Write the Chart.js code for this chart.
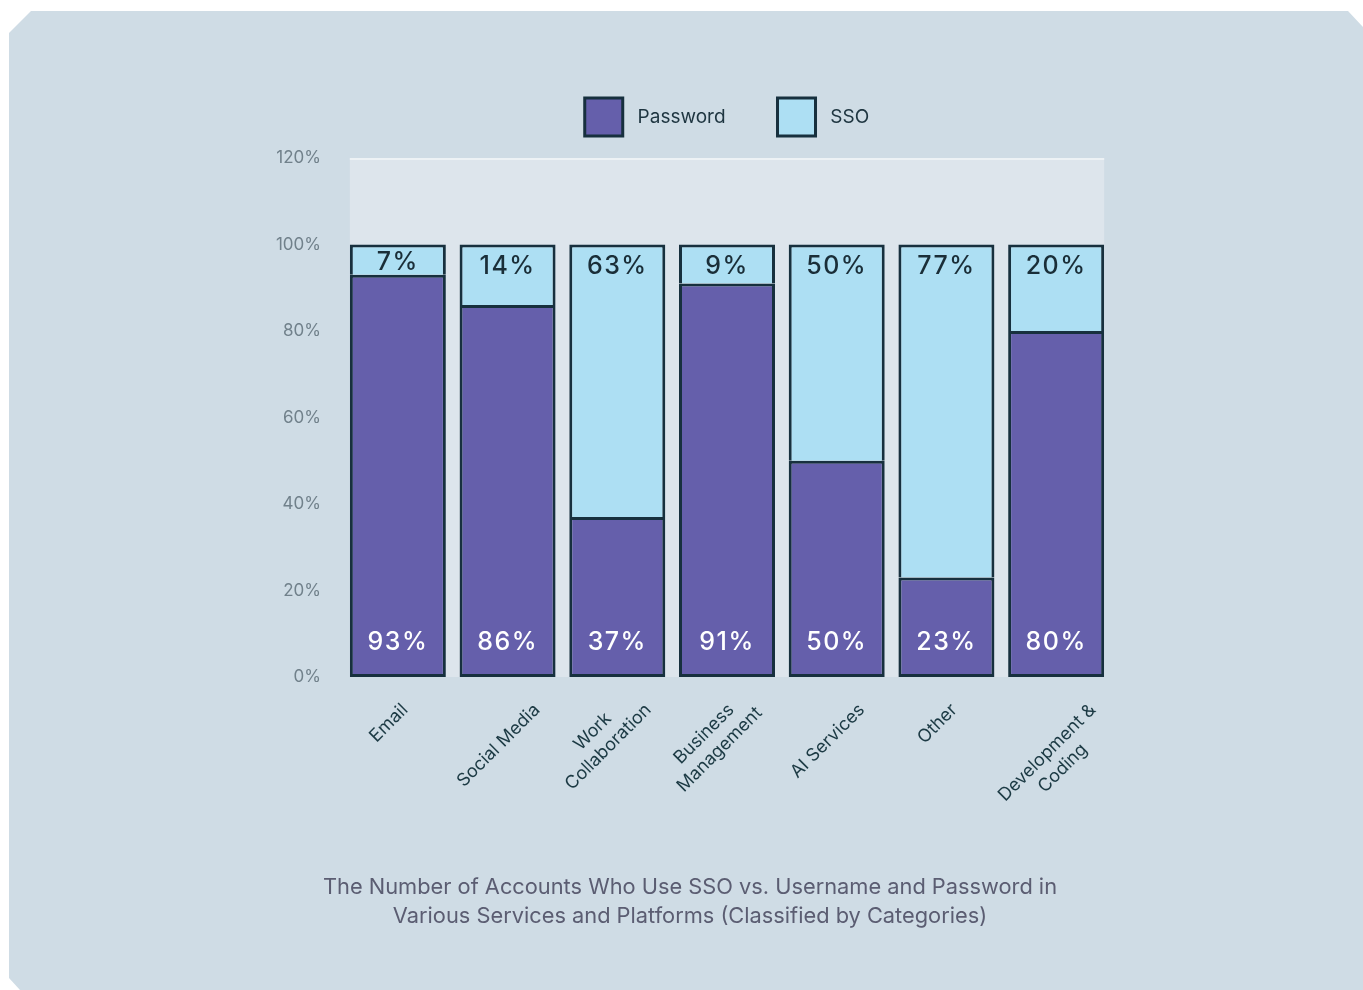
<!DOCTYPE html>
<html>
<head>
<meta charset="utf-8">
<script src="https://cdn.jsdelivr.net/npm/chart.js@4.4.1/dist/chart.umd.min.js"></script>
<style>
  html, body { margin: 0; padding: 0; background: #ffffff; }
  #panel {
    position: absolute; left: 9px; top: 11px; width: 1354px; height: 979px;
    background: #cfdce5;
    clip-path: polygon(22px 0, calc(100% - 15px) 0, 100% 16px, 100% 100%, 11px 100%, 0 calc(100% - 12px), 0 22px);
  }
  #wrap { position: absolute; left: 0; top: 0; width: 1363px; height: 990px; }
</style>
</head>
<body>
<div id="panel"></div>
<div id="wrap"><canvas id="chart" width="1363" height="990"></canvas></div>
<script>
// categories and values
const categories = [
  ['Email'],
  ['Social Media'],
  ['Work', 'Collaboration'],
  ['Business', 'Management'],
  ['AI Services'],
  ['Other'],
  ['Development &', 'Coding']
];
const passwordValues = [93, 86, 37, 91, 50, 23, 80];
const ssoValues = [7, 14, 63, 9, 50, 77, 20];
const yTicks = [0, 20, 40, 60, 80, 100, 120];
const titleLines = [
  'The Number of Accounts Who Use SSO vs. Username and Password in',
  'Various Services and Platforms (Classified by Categories)'
];

const PURPLE = '#655fab';
const LIGHTBLUE = '#addff3';
const EDGE = '#17303e';
const FONT = 'Inter, "Noto Sans", sans-serif';

// light backdrop behind the bars, from first bar edge to last bar edge
const plotBackground = {
  id: 'plotBackground',
  beforeDatasetsDraw(chart) {
    const { ctx, chartArea: a } = chart;
    const bars = chart.getDatasetMeta(0).data;
    if (!bars.length) return;
    const first = bars[0], last = bars[bars.length - 1];
    const left = first.x - first.width / 2;
    const right = last.x + last.width / 2;
    ctx.save();
    ctx.fillStyle = '#dde5ec';
    ctx.fillRect(left, a.top, right - left, a.bottom - a.top);
    ctx.fillStyle = '#edf2f5';
    ctx.fillRect(left, a.top, right - left, 2);
    ctx.restore();
  }
};

// percentage labels inside the bars
const barLabels = {
  id: 'barLabels',
  afterDatasetsDraw(chart) {
    const { ctx } = chart;
    ctx.save();
    ctx.font = '500 25px ' + FONT;
    ctx.textAlign = 'center';
    ctx.textBaseline = 'middle';
    if ('letterSpacing' in ctx) ctx.letterSpacing = '1.5px';

    chart.getDatasetMeta(0).data.forEach((bar, i) => {
      ctx.fillStyle = '#ffffff';
      ctx.fillText(passwordValues[i] + '%', bar.x, bar.base - 35);
    });
    chart.getDatasetMeta(1).data.forEach((bar, i) => {
      const top = Math.min(bar.y, bar.base);
      const bottom = Math.max(bar.y, bar.base);
      const y = Math.min(top + 22, (top + bottom) / 2 + 3);
      ctx.fillStyle = '#1a2e38';
      ctx.fillText(ssoValues[i] + '%', bar.x, y);
    });
    ctx.restore();
  }
};

// rotated category labels, lines centred on each other
const xLabels = {
  id: 'xLabels',
  afterDraw(chart) {
    const { ctx, chartArea } = chart;
    const xScale = chart.scales.x;
    const lh = 22;
    const s = Math.SQRT1_2;
    ctx.save();
    ctx.font = '18px ' + FONT;
    ctx.fillStyle = '#1c3a44';
    ctx.textAlign = 'center';
    ctx.textBaseline = 'middle';
    categories.forEach((lines, i) => {
      const n = lines.length;
      let minY = Infinity, minX = Infinity, maxX = -Infinity;
      const ws = lines.map(t => ctx.measureText(t).width);
      lines.forEach((t, j) => {
        const ly = (j - (n - 1) / 2) * lh;
        const w = ws[j];
        minY = Math.min(minY, (-w / 2 + ly - 7) * s);
        minX = Math.min(minX, (-w / 2 + ly + 7) * s);
        maxX = Math.max(maxX, (w / 2 + ly - 7) * s);
      });
      const tx = xScale.getPixelForValue(i);
      const cx = tx - 9 - (minX + maxX) / 2;
      const cy = chartArea.bottom + 25 - minY;
      ctx.save();
      ctx.translate(cx, cy);
      ctx.rotate(-Math.PI / 4);
      lines.forEach((t, j) => {
        ctx.fillText(t, 0, (j - (n - 1) / 2) * lh);
      });
      ctx.restore();
    });
    ctx.restore();
  }
};

new Chart(document.getElementById('chart'), {
  type: 'bar',
  data: {
    labels: categories,
    datasets: [
      {
        label: 'Password',
        data: passwordValues,
        backgroundColor: PURPLE,
        borderColor: EDGE,
        borderWidth: 3,
        borderSkipped: false
      },
      {
        label: 'SSO',
        data: ssoValues,
        backgroundColor: LIGHTBLUE,
        borderColor: EDGE,
        borderWidth: 3,
        borderSkipped: 'bottom'
      }
    ]
  },
  options: {
    responsive: false,
    animation: false,
    devicePixelRatio: 1,
    layout: { padding: { left: 269, right: 252, top: 46, bottom: 0 } },
    barPercentage: 0.875,
    categoryPercentage: 1,
    scales: {
      x: {
        stacked: true,
        grid: { display: false },
        border: { display: false },
        ticks: { display: false },
        afterFit(scale) { scale.height = 196; }
      },
      y: {
        stacked: true,
        min: 0,
        max: 120,
        afterBuildTicks(scale) { scale.ticks = yTicks.map(v => ({ value: v })); },
        grid: { display: false, drawTicks: false },
        border: { display: false },
        ticks: {
          padding: 22,
          color: '#71818b',
          font: { family: FONT, size: 17 },
          callback: v => v + '%'
        },
        afterFit(scale) { scale.width = 74; }
      }
    },
    plugins: {
      legend: {
        position: 'top',
        fullSize: false,
        labels: {
          boxWidth: 38,
          boxHeight: 38,
          padding: 52,
          color: '#1e3540',
          font: { family: FONT, size: 19 },
          generateLabels(chart) {
            return Chart.defaults.plugins.legend.labels.generateLabels(chart)
              .map(item => Object.assign(item, { text: ' ' + item.text }));
          }
        }
      },
      // empty spacer between legend and plot
      subtitle: {
        display: true,
        position: 'top',
        fullSize: false,
        weight: 500,
        text: '',
        font: { size: 1, lineHeight: 1 },
        padding: { top: 11, bottom: 0 }
      },
      title: {
        display: true,
        position: 'bottom',
        text: titleLines,
        color: '#5b5d72',
        font: { family: FONT, size: 21.8, weight: '400', lineHeight: 1.33 },
        padding: { top: 0, bottom: 59 }
      },
      tooltip: { enabled: false }
    }
  },
  plugins: [plotBackground, barLabels, xLabels]
});
</script>
</body>
</html>
